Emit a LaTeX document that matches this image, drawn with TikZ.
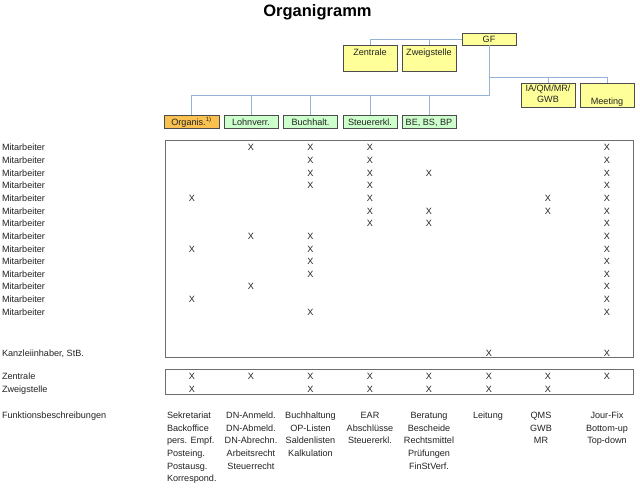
\documentclass[tikz,border=0pt]{standalone}
\usepackage{fontspec}
\setmainfont{Liberation Sans}
\usetikzlibrary{calc}
\definecolor{boxyel}{RGB}{255,255,153}
\definecolor{boxgrn}{RGB}{204,255,204}
\definecolor{boxorg}{RGB}{250,192,80}
\definecolor{conblue}{RGB}{149,179,215}
\definecolor{txtgray}{RGB}{35,35,35}
\definecolor{framegray}{RGB}{110,110,110}
\newcommand\fsn{\fontsize{9.1}{12.7}\selectfont}
\begin{document}
\begin{tikzpicture}[x=1pt,y=-1pt,
  every node/.style={inner sep=0pt, outer sep=0pt, text=txtgray, font=\fsn},
  orgbox/.style={draw=black!70, line width=0.7pt, minimum width=54pt, inner sep=0pt},
  ybox/.style={orgbox, fill=boxyel},
  gbox/.style={orgbox, fill=boxgrn, minimum height=13pt},
  obox/.style={orgbox, fill=boxorg, minimum height=13pt},
  lbl/.style={anchor=base},
  lblw/.style={anchor=base west},
  conn/.style={draw=conblue, line width=0.9pt},
  frame/.style={draw=framegray, line width=0.9pt},
  fcol/.style={anchor=base, align=center, font=\fsn}
]
\fill[white] (0,0) rectangle (640,489);
\node[anchor=base, font=\fontsize{16.5}{18}\selectfont\bfseries, text=black] (title) at (317.5,17) {Organigramm};

% org boxes
\node[ybox, minimum height=12pt] (gf) at (489,39) {};
\node[lbl] (gft) at (489,42.3) {GF};
\node[ybox, minimum height=26pt] (zen) at (370,58) {};
\node[lbl] (zent) at (370,55.3) {Zentrale};
\node[ybox, minimum height=26pt] (zwg) at (429,58) {};
\node[lbl] (zwgt) at (429,55.3) {Zweigstelle};
\node[ybox, minimum height=24pt] (iaq) at (548,95) {};
\node[lbl, align=center, font=\fontsize{9.1}{11}\selectfont] (iaqt) at (548,102.8) {IA/QM/MR/\\GWB};
\node[ybox, minimum height=24pt] (meet) at (607,95) {};
\node[lbl] (meett) at (607,104.3) {Meeting};

\node[obox, minimum width=55pt] (org) at (191.5,121.5) {};
\node[lbl] (orgt) at (191.5,125.3) {Organis.\textsuperscript{\fontsize{6}{7}\selectfont 1)}};
\node[gbox] (lohn) at (251,121.5) {};
\node[lbl] (lohnt) at (251,125.3) {Lohnverr.};
\node[gbox] (buch) at (310.5,121.5) {};
\node[lbl] (bucht) at (310.5,125.3) {Buchhalt.};
\node[gbox] (steu) at (370,121.5) {};
\node[lbl] (steut) at (370,125.3) {Steuererkl.};
\node[gbox] (bebs) at (429,121.5) {};
\node[lbl] (bebst) at (429,125.3) {BE, BS, BP};

% connectors
\coordinate (rbus) at (0,77);
\coordinate (lbus) at (0,95);
\draw[conn] (gf.west) -| (zen.north);
\draw[conn] (zwg.north) -- (zwg.north |- gf.west);
\draw[conn] (gf.south) |- (org.north |- lbus) -- (org.north);
\foreach \n in {lohn,buch,steu,bebs} \draw[conn] (\n.north) -- (\n.north |- lbus);
\draw[conn] (gf.south |- rbus) -| (meet.north);
\draw[conn] (iaq.north) -- (iaq.north |- rbus);

% frames
\draw[frame] (165,140) rectangle (633,357);
\draw[frame] (165,369) rectangle (633,394);

% Mitarbeiter rows
\foreach \r/\cl in {1/{2,3,4,8},2/{3,4,8},3/{3,4,5,8},4/{3,4,8},5/{1,4,7,8},6/{4,5,7,8},7/{4,5,8},8/{2,3,8},9/{1,3,8},10/{3,8},11/{3,8},12/{2,8},13/{1,8},14/{3,8}} {
  \node[lblw] (ma\r) at (2,{147.5+12.65*(\r-1)+3.3}) {Mitarbeiter};
  \foreach \c in \cl {
    \pgfmathsetmacro\xx{{192,251,310.5,370,429,489,548,607}[\c-1]}
    \node[lbl] (x\r-\c) at (\xx,{147.5+12.65*(\r-1)+3.3}) {X};
  }
}

% Kanzlei
\node[lblw] (kz) at (2,356.3) {Kanzleiinhaber, StB.};
\node[lbl] (kz6) at (489,356.3) {X};
\node[lbl] (kz8) at (607,356.3) {X};

% Zentrale / Zweigstelle
\node[lblw] (zl) at (2,379.3) {Zentrale};
\node[lblw] (wl) at (2,392.3) {Zweigstelle};
\foreach \c/\xx in {1/192,2/251,3/310.5,4/370,5/429,6/489,7/548,8/607}
  \node[lbl] (zx\c) at (\xx,379.3) {X};
\foreach \c/\xx in {1/192,3/310.5,4/370,5/429,6/489,7/548}
  \node[lbl] (wx\c) at (\xx,392.3) {X};

% Funktionsbeschreibungen (base = last line)
\node[lblw] (fb) at (2,418.3) {Funktionsbeschreibungen};
\node[anchor=base west, align=left] (f1) at (167,481.8) {Sekretariat\\Backoffice\\pers. Empf.\\Posteing.\\Postausg.\\Korrespond.};
\node[fcol] (f2) at (251,469.1) {DN-Anmeld.\\DN-Abmeld.\\DN-Abrechn.\\Arbeitsrecht\\Steuerrecht};
\node[fcol] (f3) at (310.5,456.4) {Buchhaltung\\OP-Listen\\Saldenlisten\\Kalkulation};
\node[fcol] (f4) at (370,443.7) {EAR\\Abschlüsse\\Steuererkl.};
\node[fcol] (f5) at (429,469.1) {Beratung\\Bescheide\\Rechtsmittel\\Prüfungen\\FinStVerf.};
\node[fcol] (f6) at (488,418.3) {Leitung};
\node[fcol] (f7) at (541,443.7) {QMS\\GWB\\MR};
\node[fcol] (f8) at (607,443.7) {Jour-Fix\\Bottom-up\\Top-down};
\end{tikzpicture}
\end{document}
